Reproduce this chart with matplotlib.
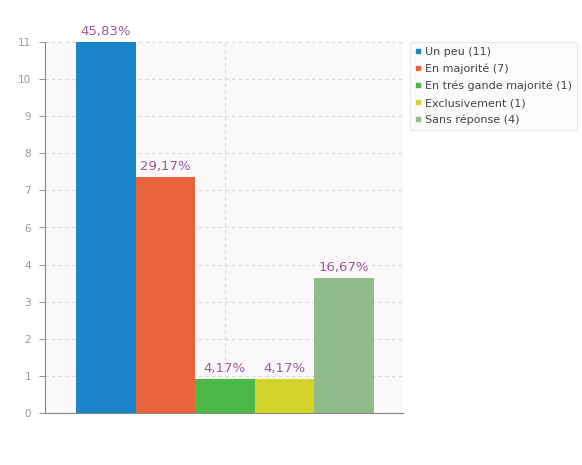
import matplotlib
matplotlib.use("Agg")
import matplotlib.pyplot as plt
from matplotlib.lines import Line2D
import numpy as np

categories = ["Un peu", "En majorité", "En trés gande majorité", "Exclusivement", "Sans réponse"]
counts = [11, 7, 1, 1, 4]
pct_labels = ["45,83%", "29,17%", "4,17%", "4,17%", "16,67%"]
colors = ["#1a85c8", "#e8633a", "#4cb84a", "#d3d32a", "#8fbc8a"]
ytick_values = list(np.linspace(0, 11, 11))
ytick_labels = ["0", "1", "2", "3", "4", "6", "7", "8", "9", "10", "11"]

plt.rcParams['font.family'] = ['DejaVu Sans']
W, H = 582, 465
fig = plt.figure(figsize=(W / 100, H / 100), dpi=100)
fig.patch.set_facecolor("white")

ax = fig.add_axes([45 / W, 1 - 413 / H, 358 / W, (413 - 42) / H])
ax.set_facecolor("#faf8f8")

x = np.arange(len(counts))
ax.bar(x, counts, width=1.0, color=colors, zorder=3)
for xi, c, t in zip(x, counts, pct_labels):
    ax.annotate(t, (xi, c), xytext=(0, 3), textcoords="offset points",
                ha="center", va="bottom", color="#9b5a9e", fontsize=9.5, zorder=4)

ax.set_xlim(-1.02, 4.99)
ax.set_ylim(0, 11)
ax.set_yticks(ytick_values)
ax.set_yticklabels(ytick_labels)
ax.set_xticks([2])
ax.set_xticklabels([])
ax.tick_params(axis='x', length=0)
ax.tick_params(axis='y', length=4, color="#999999", labelcolor="#999999", labelsize=7.5, pad=6)

ax.grid(True, axis='both', linestyle=(0, (3, 3)), color="#d8d8d8", linewidth=0.8, zorder=0)
for s in ["top", "right"]:
    ax.spines[s].set_visible(False)
for s in ["left", "bottom"]:
    ax.spines[s].set_color("#888888")
    ax.spines[s].set_linewidth(0.8)

handles = [Line2D([0], [0], marker='s', linestyle='none', markersize=3,
                  markerfacecolor=c, markeredgecolor=c) for c in colors]
labels = [f"{cat} ({n})" for cat, n in zip(categories, counts)]
leg = fig.legend(handles, labels, loc="upper left", bbox_to_anchor=(410 / W, 1 - 42 / H),
                 fontsize=8, frameon=True, handlelength=0.5, handletextpad=0.4,
                 labelspacing=0.6, borderpad=0.45, borderaxespad=0.0, fancybox=True)
leg.get_frame().set_facecolor("#fafafa")
leg.get_frame().set_edgecolor("#e6e6e6")
leg.get_frame().set_linewidth(0.8)
for t in leg.get_texts():
    t.set_color("#444444")

fig.savefig("out.png", dpi=100)
